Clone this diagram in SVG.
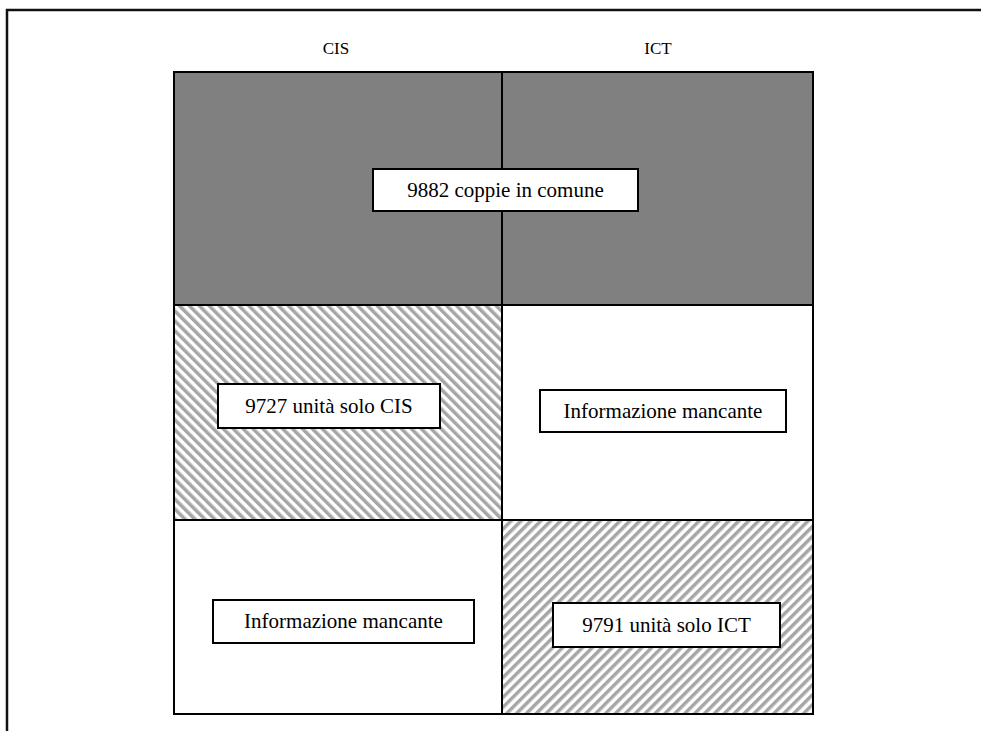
<svg xmlns="http://www.w3.org/2000/svg" width="981" height="731" viewBox="0 0 981 731">
  <defs>
    <!-- diagonal stripes, "\" direction -->
    <pattern id="hatchBack" width="7" height="7" patternUnits="userSpaceOnUse" patternTransform="rotate(-45)">
      <rect width="7" height="7" fill="#ffffff"/>
      <rect x="0" y="0" width="3.5" height="7" fill="#a6a6a6"/>
    </pattern>
    <!-- diagonal stripes, "/" direction -->
    <pattern id="hatchFwd" width="7" height="7" patternUnits="userSpaceOnUse" patternTransform="rotate(45)">
      <rect width="7" height="7" fill="#ffffff"/>
      <rect x="0" y="0" width="3.5" height="7" fill="#a6a6a6"/>
    </pattern>
  </defs>
  <style>
    .cell { stroke: #000; stroke-width: 2; }
    .label { fill: #fff; stroke: #000; stroke-width: 2; }
    .t { font-family: "Liberation Serif", "Times New Roman", serif; fill: #000; text-anchor: middle; }
    .big { font-size: 21px; }
    .head { font-size: 17px; }
  </style>

  <rect width="981" height="731" fill="#ffffff"/>
  <!-- outer frame -->
  <path d="M7,740 V10 H990" fill="none" stroke="#111" stroke-width="2.5"/>

  <!-- column headings -->
  <text class="t head" x="336" y="54">CIS</text>
  <text class="t head" x="658" y="54">ICT</text>

  <!-- grid cells -->
  <g id="cell-common-cis"><rect class="cell" x="174" y="72" width="328" height="233" fill="#808080"/></g>
  <g id="cell-common-ict"><rect class="cell" x="502" y="72" width="311" height="233" fill="#808080"/></g>
  <g id="cell-only-cis"><rect class="cell" x="174" y="305" width="328" height="215" fill="url(#hatchBack)"/></g>
  <g id="cell-missing-ict"><rect class="cell" x="502" y="305" width="311" height="215" fill="#ffffff"/></g>
  <g id="cell-missing-cis"><rect class="cell" x="174" y="520" width="328" height="194" fill="#ffffff"/></g>
  <g id="cell-only-ict"><rect class="cell" x="502" y="520" width="311" height="194" fill="url(#hatchFwd)"/></g>

  <!-- labels -->
  <g id="label-common">
    <rect class="label" x="373" y="169" width="265" height="42"/>
    <text class="t big" x="505.5" y="197">9882 coppie in comune</text>
  </g>
  <g id="label-only-cis">
    <rect class="label" x="218" y="384" width="222" height="44"/>
    <text class="t big" x="329" y="413">9727 unità solo CIS</text>
  </g>
  <g id="label-missing-ict">
    <rect class="label" x="540" y="390" width="246" height="42"/>
    <text class="t big" x="663" y="418">Informazione mancante</text>
  </g>
  <g id="label-missing-cis">
    <rect class="label" x="213" y="600" width="261" height="43"/>
    <text class="t big" x="343.5" y="628">Informazione mancante</text>
  </g>
  <g id="label-only-ict">
    <rect class="label" x="553" y="603" width="227" height="44"/>
    <text class="t big" x="666.5" y="632">9791 unità solo ICT</text>
  </g>
</svg>
